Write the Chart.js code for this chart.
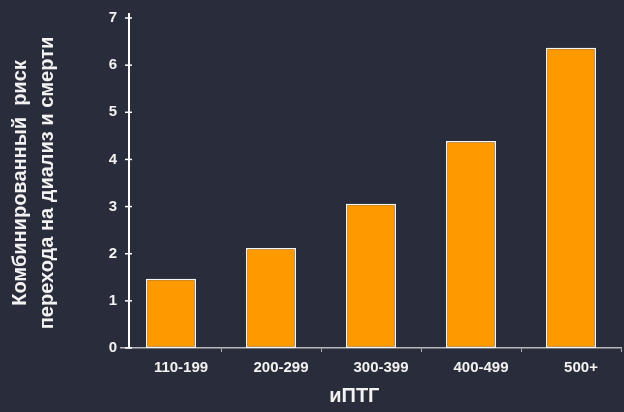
<!DOCTYPE html>
<html>
<head>
<meta charset="utf-8">
<script src="https://cdn.jsdelivr.net/npm/chart.js@4.4.1/dist/chart.umd.min.js"></script>
<style>
  html, body { margin: 0; padding: 0; background: #292c3a; overflow: hidden; }
  #wrap { width: 624px; height: 412px; }
</style>
</head>
<body>
<div id="wrap"><canvas id="myChart" width="624" height="412"></canvas></div>
<script>
// iPTH groups and combined risk of dialysis or death
let groups = ['110-199', '200-299', '300-399', '400-499', '500+']
let risk = [1.47, 2.12, 3.06, 4.39, 6.37]
let yTicks = [0, 1, 2, 3, 4, 5, 6, 7]
let yTitle = ['Комбинированный  риск', 'перехода на диализ и смерти']
let xTitle = 'иПТГ'

let textColor = '#f2f2f2'
let fontFamily = '"Liberation Sans", Arial, sans-serif'

// the vertical axis sits a few pixels inside the plot, with ticks crossing it
const yAxisLine = {
  id: 'yAxisLine',
  afterDraw(chart) {
    let ctx = chart.ctx
    let y = chart.scales.y
    let x0 = chart.chartArea.left + 8
    ctx.save()
    ctx.strokeStyle = '#ffffff'
    ctx.lineWidth = 2
    ctx.beginPath()
    ctx.moveTo(x0, y.getPixelForValue(7) - 5)
    ctx.lineTo(x0, y.getPixelForValue(0))
    ctx.stroke()
    ctx.lineWidth = 1.5
    for (let i = 0; i < yTicks.length; ++i) {
      let py = y.getPixelForValue(yTicks[i])
      ctx.beginPath()
      ctx.moveTo(x0 - 4, py)
      ctx.lineTo(x0 + 3, py)
      ctx.stroke()
    }
    ctx.restore()
  }
}

const data = {
  labels: groups,
  datasets: [{
    data: risk,
    backgroundColor: '#ff9900',
    borderColor: '#f4f4f4',
    borderWidth: 1.5,
    borderSkipped: false,
    categoryPercentage: 1,
    barPercentage: 0.5
  }]
}

const config = {
  type: 'bar',
  data: data,
  plugins: [yAxisLine],
  options: {
    responsive: false,
    animation: false,
    layout: {padding: {top: 18, right: 3, left: 0, bottom: 0}},
    plugins: {legend: {display: false}, tooltip: {enabled: false}},
    scales: {
      x: {
        grid: {
          display: true,
          drawOnChartArea: false,
          drawTicks: true,
          tickLength: 4,
          offset: true,
          color: (c) => c.index === 0 ? 'rgba(0,0,0,0)' : '#b0b0b0',
          lineWidth: 1
        },
        border: {display: true, color: '#b8b8b8', width: 1.5},
        ticks: {
          color: textColor,
          font: {family: fontFamily, size: 15, weight: 'bold'},
          padding: 7,
          labelOffset: 10,
          maxRotation: 0
        },
        title: {
          display: true,
          text: xTitle + '      ',
          color: textColor,
          font: {family: fontFamily, size: 20, weight: 'bold'},
          padding: {top: 8, bottom: 4}
        },
        afterFit: (scale) => { scale.height = 64 }
      },
      y: {
        min: 0,
        max: 7,
        afterBuildTicks: (scale) => { scale.ticks = yTicks.map(v => ({value: v})) },
        grid: {display: false, drawTicks: false},
        border: {display: false},
        ticks: {
          color: textColor,
          font: {family: fontFamily, size: 15, weight: 'bold'},
          padding: 4
        },
        title: {
          display: true,
          text: yTitle,
          color: textColor,
          font: {family: fontFamily, size: 20, weight: 'bold', lineHeight: 1.35},
          padding: {top: 7, bottom: 0}
        },
        afterFit: (scale) => { scale.width = 121 }
      }
    }
  }
}

Window.myChart_ = new Chart(document.getElementById('myChart'), config)
</script>
</body>
</html>
